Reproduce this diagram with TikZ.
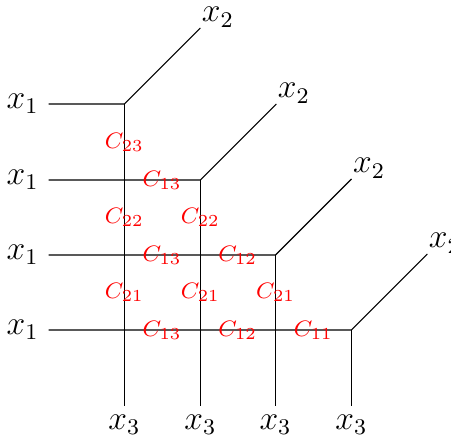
\documentclass[tikz,border=0pt]{standalone}
\usetikzlibrary{calc}
\begin{document}
\begin{tikzpicture}[x=0.357pt,y=-0.357pt,
  axis/.style={line width=0.4pt},
  lab/.style={font=\large},
  clab/.style={text=red,font=\footnotesize,inner sep=0pt}]
\useasboundingbox (0,0) rectangle (451,444);
\clip (0,0) rectangle (451,444);
% corners
\coordinate (c1) at (124.3,104);
\coordinate (c2) at (200.3,180);
\coordinate (c3) at (275.5,255);
\coordinate (c4) at (351.3,330);
\coordinate (l1) at (48.5,104);
\coordinate (l2) at (48.5,180);
\coordinate (l3) at (48.5,255);
\coordinate (l4) at (48.5,330);
\coordinate (bot) at (0,405.5);
\foreach \i in {1,2,3,4}{
  \coordinate (d\i) at ($(c\i)+(76,-76)$);
  \coordinate (b\i) at (c\i |- bot);
  \draw[axis] (l\i) -- (c\i) -- (d\i);
  \draw[axis] (c\i) -- (b\i);
  \node[lab,anchor=east] (xa\i) at (l\i) {$x_1$};
  \node[lab,anchor=north] (xc\i) at (b\i) {$x_3$};
  \node[lab,anchor=base west,inner sep=0pt] (xb\i) at ($(d\i)+(1,-6)$) {$x_2$};
}
% red labels
\node[clab] (k23) at (124.3,142) {$C_{23}$};
\node[clab] (k22a) at (124.3,217.5) {$C_{22}$};
\node[clab] (k22b) at (200.3,217.5) {$C_{22}$};
\node[clab] (k21a) at (124.3,292.5) {$C_{21}$};
\node[clab] (k21b) at (200.3,292.5) {$C_{21}$};
\node[clab] (k21c) at (275.5,292.5) {$C_{21}$};
\node[clab] (k13a) at (162,180) {$C_{13}$};
\node[clab] (k13b) at (162,255) {$C_{13}$};
\node[clab] (k13c) at (162,330) {$C_{13}$};
\node[clab] (k12a) at (237.7,255) {$C_{12}$};
\node[clab] (k12b) at (237.7,330) {$C_{12}$};
\node[clab] (k11) at (313.4,330) {$C_{11}$};
\end{tikzpicture}
\end{document}
